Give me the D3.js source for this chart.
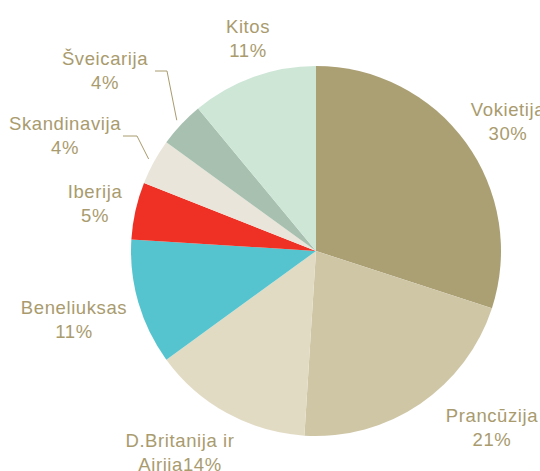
<!DOCTYPE html>
<html>
<head>
<meta charset="utf-8">
<script src="https://cdn.jsdelivr.net/npm/d3@7"></script>
<style>
  html, body { margin: 0; padding: 0; background: #fff; }
  svg { display: block; }
</style>
</head>
<body>
<svg id="chart" width="540" height="471"></svg>
<script>
// ---- data ----
const categories = ["Vokietija", "Prancūzija", "D.Britanija ir Airija", "Beneliuksas", "Iberija", "Skandinavija", "Šveicarija", "Kitos"];
const values = [30, 21, 14, 11, 5, 4, 4, 11];
const labelLine1 = ["Vokietija", "Prancūzija", "D.Britanija ir", "Beneliuksas", "Iberija", "Skandinavija", "Šveicarija", "Kitos"];
const labelLine2 = ["30%", "21%", "Airija14%", "11%", "5%", "4%", "4%", "11%"];

// ---- layout / style (not data) ----
const colors = ["#ab9f74", "#cfc6a6", "#e2dbc4", "#56c4cf", "#ee3124", "#e9e5da", "#a8c0b0", "#cde6d6"];
const textColor = "#a99b6e";
const cx = 316, cy = 251, R = 185;
// label anchor (first baseline) positions, relative to pie center
const labelPos = [
  [192, -135], [176, 171], [-136, 196], [-242, 63],
  [-221, -53], [-251, -121], [-211, -186], [-68, -218]
];
const leaders = { 5: [[-193, -115], [-179, -115]], 6: [[-161, -180], [-149, -180]] };

const svg = d3.select("#chart");
const g = svg.append("g").attr("transform", `translate(${cx},${cy})`);

const pie = d3.pie().sort(null).value(d => d)(values);
const arc = d3.arc().innerRadius(0).outerRadius(R);

g.selectAll("path.slice")
  .data(pie)
  .join("path")
  .attr("class", "slice")
  .attr("d", arc)
  .attr("fill", (d, i) => colors[i]);

// leader lines
Object.keys(leaders).forEach(k => {
  const i = +k;
  const a = (pie[i].startAngle + pie[i].endAngle) / 2;
  const end = [Math.sin(a) * (R + 6), -Math.cos(a) * (R + 6)];
  const pts = leaders[k].concat([end]);
  g.append("path")
    .attr("d", d3.line()(pts))
    .attr("fill", "none")
    .attr("stroke", textColor)
    .attr("stroke-width", 1);
});

// labels
const lbl = g.selectAll("text.lbl")
  .data(pie)
  .join("text")
  .attr("class", "lbl")
  .attr("x", (d, i) => labelPos[i][0])
  .attr("y", (d, i) => labelPos[i][1])
  .attr("text-anchor", "middle")
  .attr("fill", textColor)
  .style("font-family", "'Liberation Sans', Arial, sans-serif")
  .style("font-size", "18.5px")
  .style("letter-spacing", "0.6px");

lbl.append("tspan")
  .attr("x", (d, i) => labelPos[i][0])
  .text((d, i) => labelLine1[i]);
lbl.append("tspan")
  .attr("x", (d, i) => labelPos[i][0])
  .attr("dy", 23.5)
  .text((d, i) => labelLine2[i]);
</script>
</body>
</html>
